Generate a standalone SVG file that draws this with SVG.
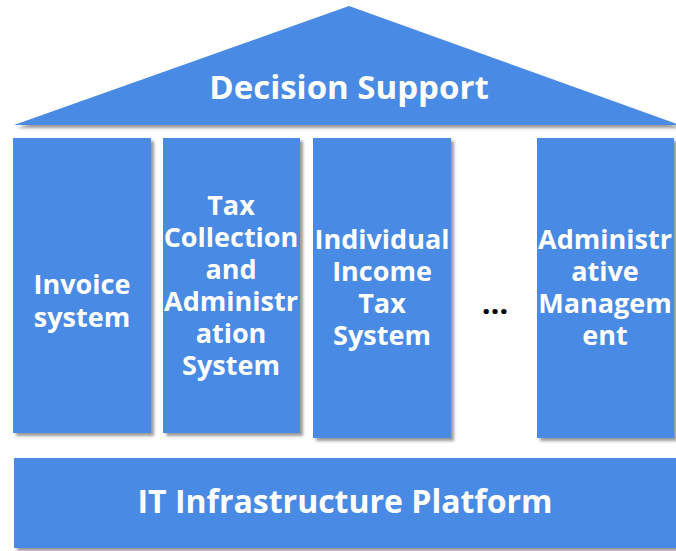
<svg xmlns="http://www.w3.org/2000/svg" width="676" height="551" viewBox="0 0 676 551">
<defs>
<filter id="sh" x="-10%" y="-10%" width="130%" height="130%">
<feDropShadow dx="3" dy="3" stdDeviation="1.5" flood-color="#555" flood-opacity="0.6"/>
</filter>
</defs>
<style>
.b{fill:#4a8ae4;filter:url(#sh)}
.t{fill:#fff;font-family:"Open Sans","Liberation Sans",sans-serif;font-weight:bold;text-anchor:middle}
.big{font-size:33px}
.sm{font-size:27px}
</style>
<rect width="676" height="551" fill="#fff"/>
<g id="roof">
<polygon class="b" points="349,6 680,125 14,125"/>
<text class="t big" x="349" y="99">Decision Support</text>
</g>
<g id="col-invoice">
<rect class="b" x="13" y="138" width="138" height="295"/>
<text class="t sm"><tspan x="82" y="294">Invoice</tspan><tspan x="82" y="327">system</tspan></text>
</g>
<g id="col-tax">
<rect class="b" x="163" y="138" width="137" height="295"/>
<text class="t sm"><tspan x="231" y="215">Tax</tspan><tspan x="231" y="247">Collection</tspan><tspan x="231" y="279">and</tspan><tspan x="231" y="311">Administr</tspan><tspan x="231" y="343">ation</tspan><tspan x="231" y="375">System</tspan></text>
</g>
<g id="col-iit">
<rect class="b" x="313" y="138" width="138" height="300"/>
<text class="t sm"><tspan x="382" y="249">Individual</tspan><tspan x="382" y="281">Income</tspan><tspan x="382" y="313">Tax</tspan><tspan x="382" y="345">System</tspan></text>
</g>
<g id="ellipsis">
<text x="495" y="314" font-family="'Open Sans','Liberation Sans',sans-serif" font-weight="bold" font-size="31" text-anchor="middle" fill="#000">…</text>
</g>
<g id="col-admin">
<rect class="b" x="537" y="138" width="137" height="300"/>
<text class="t sm"><tspan x="605" y="249">Administr</tspan><tspan x="605" y="281">ative</tspan><tspan x="605" y="313">Managem</tspan><tspan x="605" y="345">ent</tspan></text>
</g>
<g id="base">
<rect class="b" x="14" y="458" width="664" height="90"/>
<text class="t" font-size="32" x="345" y="513">IT Infrastructure Platform</text>
</g>
<g id="connectors"></g>
</svg>
